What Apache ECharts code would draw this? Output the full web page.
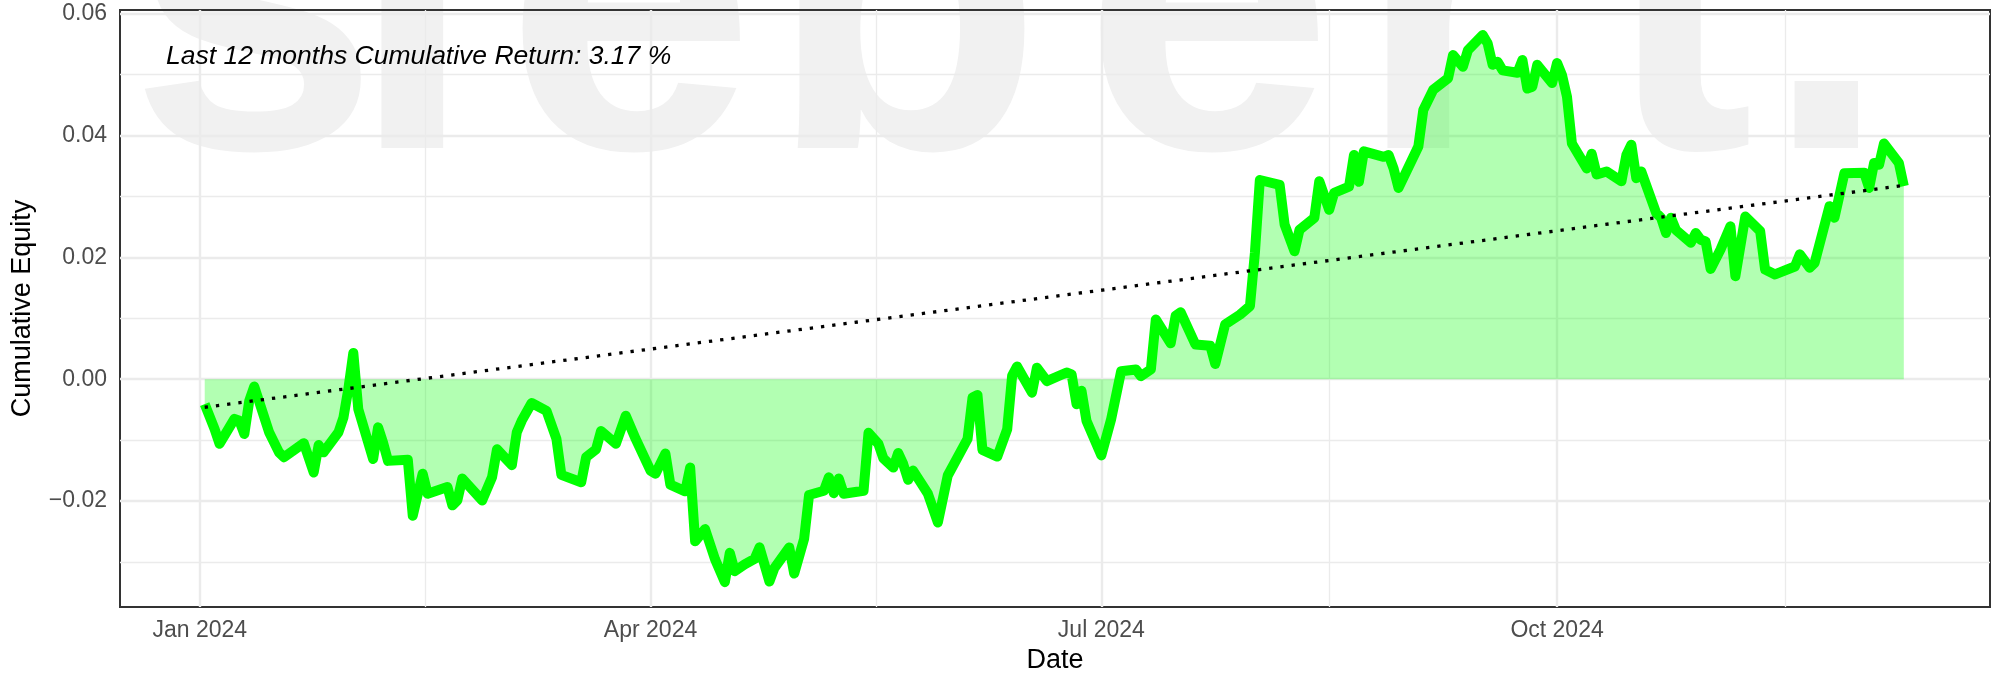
<!DOCTYPE html>
<html>
<head>
<meta charset="utf-8">
<title>Cumulative Equity</title>
<script src="https://cdn.jsdelivr.net/npm/echarts@6/dist/echarts.min.js"></script>
<style>
  html, body { margin: 0; padding: 0; background: #fff; }
  #equityChart { width: 2007px; height: 679px; }
</style>
</head>
<body>
<div id="equityChart"></div>
<script>
// equity curve, vertices
var dates = [
  '2024-01-02', '2024-01-04', '2024-01-05', '2024-01-08', '2024-01-09', '2024-01-10', '2024-01-11', '2024-01-12', '2024-01-15', '2024-01-17', '2024-01-18', '2024-01-22', '2024-01-24', '2024-01-25', '2024-01-26', '2024-01-29', '2024-01-30', '2024-01-31',
  '2024-02-01', '2024-02-02', '2024-02-05', '2024-02-06', '2024-02-07', '2024-02-08', '2024-02-12', '2024-02-13', '2024-02-15', '2024-02-16', '2024-02-20', '2024-02-21', '2024-02-22', '2024-02-23', '2024-02-27', '2024-02-29',
  '2024-03-01', '2024-03-04', '2024-03-05', '2024-03-06', '2024-03-08', '2024-03-11', '2024-03-13', '2024-03-14', '2024-03-18', '2024-03-19', '2024-03-21', '2024-03-22', '2024-03-25', '2024-03-27', '2024-03-29',
  '2024-04-01', '2024-04-02', '2024-04-04', '2024-04-05', '2024-04-08', '2024-04-09', '2024-04-10', '2024-04-12', '2024-04-14', '2024-04-16', '2024-04-17', '2024-04-18', '2024-04-20', '2024-04-22', '2024-04-23', '2024-04-25', '2024-04-26', '2024-04-29', '2024-04-30',
  '2024-05-02', '2024-05-03', '2024-05-06', '2024-05-07', '2024-05-08', '2024-05-09', '2024-05-10', '2024-05-14', '2024-05-15', '2024-05-17', '2024-05-18', '2024-05-20', '2024-05-21', '2024-05-22', '2024-05-23', '2024-05-24', '2024-05-27', '2024-05-29', '2024-05-31',
  '2024-06-04', '2024-06-05', '2024-06-06', '2024-06-07', '2024-06-10', '2024-06-12', '2024-06-13', '2024-06-14', '2024-06-17', '2024-06-18', '2024-06-20', '2024-06-24', '2024-06-25', '2024-06-26', '2024-06-27', '2024-06-28',
  '2024-07-01', '2024-07-03', '2024-07-05', '2024-07-08', '2024-07-09', '2024-07-11', '2024-07-12', '2024-07-15', '2024-07-16', '2024-07-17', '2024-07-20', '2024-07-23', '2024-07-24', '2024-07-26', '2024-07-29', '2024-07-31',
  '2024-08-01', '2024-08-02', '2024-08-06', '2024-08-07', '2024-08-09', '2024-08-10', '2024-08-13', '2024-08-14', '2024-08-16', '2024-08-17', '2024-08-20', '2024-08-21', '2024-08-22', '2024-08-23', '2024-08-27', '2024-08-28', '2024-08-29', '2024-08-30',
  '2024-09-03', '2024-09-04', '2024-09-06', '2024-09-09', '2024-09-10', '2024-09-12', '2024-09-13', '2024-09-16', '2024-09-17', '2024-09-18', '2024-09-19', '2024-09-20', '2024-09-23', '2024-09-24', '2024-09-25', '2024-09-26', '2024-09-27', '2024-09-30',
  '2024-10-01', '2024-10-02', '2024-10-03', '2024-10-04', '2024-10-07', '2024-10-08', '2024-10-09', '2024-10-11', '2024-10-14', '2024-10-15', '2024-10-16', '2024-10-17', '2024-10-18', '2024-10-21', '2024-10-22', '2024-10-23', '2024-10-24', '2024-10-25', '2024-10-28', '2024-10-29', '2024-10-30', '2024-10-31',
  '2024-11-01', '2024-11-03', '2024-11-05', '2024-11-06', '2024-11-08', '2024-11-11', '2024-11-12', '2024-11-14', '2024-11-18', '2024-11-19', '2024-11-21', '2024-11-22', '2024-11-25', '2024-11-26', '2024-11-28',
  '2024-12-02', '2024-12-03', '2024-12-04', '2024-12-05', '2024-12-06', '2024-12-09', '2024-12-10'
];
var equity = [
  -0.0041, -0.0082, -0.0106, -0.0065, -0.0068, -0.0090, -0.0035, -0.0012, -0.0087, -0.0120, -0.0128, -0.0105, -0.0153, -0.0108, -0.0120, -0.0087, -0.0063, -0.0016,
  0.0043, -0.0049, -0.0131, -0.0079, -0.0104, -0.0134, -0.0132, -0.0224, -0.0155, -0.0188, -0.0177, -0.0207, -0.0199, -0.0163, -0.0199, -0.0161,
  -0.0115, -0.0141, -0.0087, -0.0068, -0.0039, -0.0052, -0.0098, -0.0157, -0.0169, -0.0128, -0.0115, -0.0085, -0.0106, -0.0060, -0.0098,
  -0.0150, -0.0155, -0.0122, -0.0173, -0.0184, -0.0145, -0.0266, -0.0246, -0.0295, -0.0333, -0.0285, -0.0315, -0.0304, -0.0295, -0.0276, -0.0332, -0.0310, -0.0276, -0.0319,
  -0.0262, -0.0190, -0.0183, -0.0161, -0.0187, -0.0163, -0.0188, -0.0183, -0.0088, -0.0106, -0.0130, -0.0145, -0.0121, -0.0139, -0.0165, -0.0150, -0.0188, -0.0235, -0.0158,
  -0.0098, -0.0030, -0.0026, -0.0116, -0.0127, -0.0082, 0.0006, 0.0021, -0.0022, 0.0019, -0.0003, 0.0011, 0.0008, -0.0041, -0.0019, -0.0068,
  -0.0125, -0.0065, 0.0013, 0.0016, 0.0005, 0.0016, 0.0098, 0.0059, 0.0104, 0.0110, 0.0057, 0.0055, 0.0025, 0.0090, 0.0106, 0.0120,
  0.0207, 0.0327, 0.0319, 0.0254, 0.0210, 0.0245, 0.0265, 0.0325, 0.0278, 0.0306, 0.0316, 0.0368, 0.0324, 0.0374, 0.0365, 0.0368, 0.0346, 0.0314,
  0.0382, 0.0442, 0.0475, 0.0494, 0.0532, 0.0513, 0.0540, 0.0565, 0.0551, 0.0516, 0.0521, 0.0507, 0.0503, 0.0524, 0.0477, 0.0480, 0.0516, 0.0486,
  0.0519, 0.0499, 0.0464, 0.0387, 0.0346, 0.0370, 0.0336, 0.0341, 0.0325, 0.0368, 0.0385, 0.0330, 0.0341, 0.0273, 0.0265, 0.0240, 0.0265, 0.0245, 0.0224, 0.0240, 0.0229, 0.0226,
  0.0181, 0.0213, 0.0251, 0.0169, 0.0267, 0.0243, 0.0180, 0.0172, 0.0185, 0.0205, 0.0183, 0.0191, 0.0284, 0.0265, 0.0338,
  0.0339, 0.0314, 0.0355, 0.0352, 0.0387, 0.0355, 0.0317
];

// linear trend (dotted)
var trendDates = ['2024-01-02', '2024-12-10'];
var trendValues = [-0.0046, 0.0318];

var xTickDates = ['2024-01-01', '2024-04-01', '2024-07-01', '2024-10-01'];
var xTickLabels = ['Jan 2024', 'Apr 2024', 'Jul 2024', 'Oct 2024'];
var yTicks = [-0.02, 0, 0.02, 0.04, 0.06];
var returnText = 'Last 12 months Cumulative Return: 3.17 %';
var watermark = ['s', 'i', 'e', 'b', 'e', 'r', 't', '.'];

// days since 1 Jan 2024
function dayOf(s) {
  var p = s.split('-');
  return (Date.UTC(+p[0], +p[1] - 1, +p[2]) - Date.UTC(2024, 0, 1)) / 86400000;
}

var equityData = dates.map(function (d, i) { return [dayOf(d), equity[i]]; });
var trendData = trendDates.map(function (d, i) { return [dayOf(d), trendValues[i]]; });
var xTicks = xTickDates.map(dayOf);

// minor breaks halfway between the major ones, like ggplot
var xBreaks = xTicks.concat([dayOf('2025-01-01')]);
var xMinor = [];
for (var i = 0; i < xBreaks.length - 1; i++) {
  xMinor.push((xBreaks[i] + xBreaks[i + 1]) / 2);
}
var yMinor = yTicks.map(function (v) { return v - 0.01; });

var gridLines = [];
xTicks.forEach(function (v) { gridLines.push({ xAxis: v, lineStyle: { width: 2.4 } }); });
xMinor.forEach(function (v) { gridLines.push({ xAxis: v, lineStyle: { width: 1.3 } }); });
yTicks.forEach(function (v) { gridLines.push({ yAxis: v, lineStyle: { width: 2.4 } }); });
yMinor.forEach(function (v) { gridLines.push({ yAxis: v, lineStyle: { width: 1.3 } }); });

// watermark letters, placed by hand
var markX = [129, 350, 505, 768, 1083, 1356, 1604, 1764];
var markElements = watermark.map(function (ch, i) {
  return {
    type: 'text', x: markX[i], y: 24, z: -10, silent: true,
    style: { text: ch, fill: '#f1f1f1', font: 'bold 450px "Liberation Sans"', textAlign: 'left', textVerticalAlign: 'middle' }
  };
});

var chart = echarts.init(document.getElementById('equityChart'));
chart.setOption({
  animation: false,
  backgroundColor: '#ffffff',
  textStyle: { fontFamily: 'Liberation Sans' },
  grid: {
    left: 120, right: 17, top: 10, bottom: 70,
    show: true, borderColor: '#333333', borderWidth: 2, backgroundColor: 'transparent'
  },
  graphic: {
    elements: markElements.concat([{
      type: 'text', x: 166, y: 56.5, z: 10, silent: true,
      style: { text: returnText, fill: '#000', font: 'italic 26.5px "Liberation Sans"', textAlign: 'left', textVerticalAlign: 'middle' }
    }])
  },
  xAxis: {
    type: 'value',
    min: -16.1,
    max: 361.4,
    name: 'Date',
    nameLocation: 'middle',
    nameGap: 39,
    nameTextStyle: { color: '#000', fontSize: 27 },
    axisLine: { show: false },
    axisTick: { show: true, customValues: xTicks, length: 7.5, lineStyle: { color: '#333333', width: 2 } },
    axisLabel: {
      customValues: xTicks, margin: 12, color: '#4d4d4d', fontSize: 23,
      formatter: function (v) {
        for (var k = 0; k < xTicks.length; k++) {
          if (Math.abs(xTicks[k] - v) < 0.5) return xTickLabels[k];
        }
        return '';
      }
    },
    splitLine: { show: false }
  },
  yAxis: {
    type: 'value',
    min: -0.0374,
    max: 0.0606,
    name: 'Cumulative Equity',
    nameLocation: 'middle',
    nameGap: 84,
    nameMoveOverlap: false,
    nameTextStyle: { color: '#000', fontSize: 27 },
    axisLine: { show: false },
    axisTick: { show: true, customValues: yTicks, length: 7.5, lineStyle: { color: '#333333', width: 2 } },
    axisLabel: {
      customValues: yTicks, margin: 13, align: 'right', color: '#4d4d4d', fontSize: 23,
      formatter: function (v) {
        var s = Math.abs(v).toFixed(2);
        return v < -1e-9 ? '\u2212' + s : s;
      }
    },
    splitLine: { show: false }
  },
  series: [
    {
      name: 'grid', type: 'line', data: [], silent: true, z: 1,
      markLine: {
        silent: true, symbol: 'none', z: 1, animation: false,
        label: { show: false },
        lineStyle: { color: '#ebebeb', type: 'solid' },
        emphasis: { disabled: true },
        data: gridLines
      }
    },
    {
      name: 'equity', type: 'line', data: equityData, showSymbol: false, z: 2,
      lineStyle: { color: '#00ff00', width: 10, join: 'round', cap: 'butt' },
      areaStyle: { color: '#00ff00', opacity: 0.3, origin: 0 }
    },
    {
      name: 'trend', type: 'line', data: trendData, showSymbol: false, z: 3,
      lineStyle: { color: '#000000', width: 3.3, type: [3.3, 8], cap: 'butt' }
    }
  ]
});
</script>
</body>
</html>
